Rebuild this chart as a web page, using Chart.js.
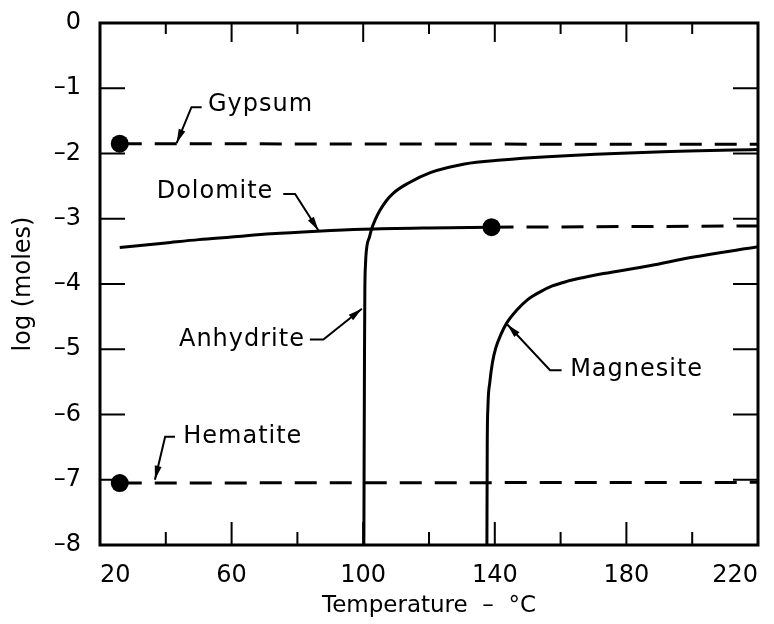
<!DOCTYPE html>
<html>
<head>
<meta charset="utf-8">
<script src="https://cdn.jsdelivr.net/npm/chart.js@4.4.1/dist/chart.umd.min.js"></script>
<style>
	body { margin: 0; background: #fff; }
	canvas { display: block; }
</style>
</head>
<body>
<canvas id="chart" width="774" height="624"></canvas>
<script>
// values (temperature in °C, log moles)
const gypsumT = [26, 220];
const gypsumV = [-1.85, -1.86];
const hematiteT = [26, 220];
const hematiteV = [-7.05, -7.04];
const dolomiteT = [26, 40, 50, 60, 72, 86, 100, 120, 139];
const dolomiteV = [-3.44, -3.37, -3.32, -3.28, -3.23, -3.19, -3.16, -3.14, -3.13];
const dolomiteDashT = [139, 220];
const dolomiteDashV = [-3.13, -3.11];
const anhydriteT = [100.2, 100.4, 100.5, 100.7, 101.1, 101.9, 102.6, 103.6, 105.1, 107.1, 109.1, 113.5, 120.6, 130.8, 142, 156, 187, 220];
const anhydriteV = [-8, -5, -4.1, -3.7, -3.43, -3.28, -3.15, -3.02, -2.87, -2.72, -2.61, -2.46, -2.29, -2.16, -2.10, -2.05, -1.98, -1.94];
const magnesiteT = [137.6, 137.7, 137.9, 138.5, 139.3, 140.3, 141.8, 143.6, 146.7, 150, 153.8, 157.5, 161.9, 167, 173, 187, 200, 220];
const magnesiteV = [-8, -6.5, -5.9, -5.5, -5.2, -4.98, -4.78, -4.6, -4.40, -4.24, -4.12, -4.03, -3.96, -3.9, -3.84, -3.72, -3.59, -3.43];
const markerT = [26, 139, 26];
const markerV = [-1.85, -3.13, -7.05];

const xTicksMin = 20, xTicksMax = 220, xStep = 40, xMinorStep = 20;
const yTicksMin = -8, yTicksMax = 0;

// labels with their leader arrows (data units)
const annotations = [
	{ text: 'Gypsum', at: [52.8, -1.26], align: 'left', leader: [[50.9, -1.29], [47.8, -1.29], [43.3, -1.84]] },
	{ text: 'Dolomite', at: [72.7, -2.59], align: 'right', leader: [[75.7, -2.62], [79.3, -2.62], [86.4, -3.18]] },
	{ text: 'Anhydrite', at: [82.3, -4.85], align: 'right', leader: [[83.8, -4.85], [87.9, -4.85], [99.6, -4.38]] },
	{ text: 'Hematite', at: [45.3, -6.34], align: 'left', leader: [[42.8, -6.34], [39.8, -6.34], [36.7, -7.0]] },
	{ text: 'Magnesite', at: [162.9, -5.32], align: 'left', leader: [[160.3, -5.32], [156.8, -5.32], [143.8, -4.62]] },
];

function pts(xs, ys) {
	return xs.map((x, i) => ({ x: x, y: ys[i] }));
}

function lineSet(xs, ys, dashed) {
	return {
		type: 'line',
		data: pts(xs, ys),
		borderColor: '#000',
		borderWidth: 3,
		borderDash: dashed ? [22, 13] : [],
		pointRadius: 0,
		fill: false,
		cubicInterpolationMode: 'monotone',
	};
}

const FONT = 'DejaVu Sans';

// frame with inward ticks
const framePlugin = {
	id: 'frame',
	afterDatasetsDraw(chart) {
		const ctx = chart.ctx;
		const a = chart.chartArea;
		const x = chart.scales.x, y = chart.scales.y;
		ctx.save();
		ctx.strokeStyle = '#000';
		ctx.lineWidth = 3;
		ctx.strokeRect(a.left, a.top, a.right - a.left, a.bottom - a.top);
		ctx.lineWidth = 2;
		ctx.beginPath();
		for (let v = yTicksMin + 1; v < yTicksMax; v++) {
			const py = y.getPixelForValue(v);
			ctx.moveTo(a.left, py); ctx.lineTo(a.left + 25, py);
			ctx.moveTo(a.right, py); ctx.lineTo(a.right - 25, py);
		}
		for (let v = xTicksMin + xMinorStep; v < xTicksMax; v += xMinorStep) {
			const px = x.getPixelForValue(v);
			const major = (v - xTicksMin) % xStep === 0;
			ctx.moveTo(px, a.bottom); ctx.lineTo(px, a.bottom - (major ? 23 : 13));
			ctx.moveTo(px, a.top); ctx.lineTo(px, a.top + (major ? 19 : 11));
		}
		ctx.stroke();
		ctx.restore();
	}
};

const labelPlugin = {
	id: 'labels',
	afterDraw(chart) {
		const ctx = chart.ctx;
		const x = chart.scales.x, y = chart.scales.y;
		ctx.save();
		ctx.fillStyle = '#000';
		ctx.strokeStyle = '#000';
		ctx.font = '24px "' + FONT + '"';
		ctx.letterSpacing = '1px';
		ctx.textBaseline = 'middle';
		annotations.forEach(an => {
			ctx.textAlign = an.align;
			ctx.fillText(an.text, x.getPixelForValue(an.at[0]), y.getPixelForValue(an.at[1]));
			const p = an.leader.map(q => [x.getPixelForValue(q[0]), y.getPixelForValue(q[1])]);
			ctx.lineWidth = 2;
			ctx.beginPath();
			ctx.moveTo(p[0][0], p[0][1]);
			for (let i = 1; i < p.length; i++) ctx.lineTo(p[i][0], p[i][1]);
			ctx.stroke();
			// arrow head at the tip
			const tip = p[p.length - 1], prev = p[p.length - 2];
			const ang = Math.atan2(tip[1] - prev[1], tip[0] - prev[0]);
			const len = 14, hw = 3.5;
			ctx.beginPath();
			ctx.moveTo(tip[0], tip[1]);
			ctx.lineTo(tip[0] - len * Math.cos(ang) + hw * Math.sin(ang), tip[1] - len * Math.sin(ang) - hw * Math.cos(ang));
			ctx.lineTo(tip[0] - len * Math.cos(ang) - hw * Math.sin(ang), tip[1] - len * Math.sin(ang) + hw * Math.cos(ang));
			ctx.closePath();
			ctx.fill();
		});
		ctx.restore();
	}
};

Chart.defaults.font.family = FONT;
Chart.defaults.color = '#000';

new Chart(document.getElementById('chart'), {
	type: 'scatter',
	data: {
		datasets: [
			lineSet(gypsumT, gypsumV, true),
			lineSet(hematiteT, hematiteV, true),
			lineSet(dolomiteT, dolomiteV, false),
			lineSet(dolomiteDashT, dolomiteDashV, true),
			lineSet(anhydriteT, anhydriteV, false),
			lineSet(magnesiteT, magnesiteV, false),
			{
				type: 'scatter',
				data: pts(markerT, markerV),
				pointRadius: 9,
				pointBackgroundColor: '#000',
				pointBorderWidth: 0,
			},
		]
	},
	options: {
		responsive: false,
		animation: false,
		devicePixelRatio: 1,
		layout: { padding: { top: 23, right: 16, bottom: 0, left: 0 } },
		plugins: {
			legend: { display: false },
			tooltip: { enabled: false },
		},
		scales: {
			x: {
				type: 'linear',
				min: xTicksMin,
				max: xTicksMax,
				grid: { display: false },
				border: { display: false },
				ticks: { stepSize: xStep, font: { size: 24 }, padding: 8, align: 'inner', maxRotation: 0 },
				title: { display: true, text: 'Temperature  –  °C', font: { size: 23 }, padding: { top: 0, bottom: 4 } },
				afterFit(scale) {
					scale.height = 79;
					scale.paddingLeft = 0;
					scale.paddingRight = 0;
				}
			},
			y: {
				min: yTicksMin,
				max: yTicksMax,
				grid: { display: false },
				border: { display: false },
				ticks: {
					stepSize: 1,
					font: { size: 24 },
					padding: 11,
					callback: v => v < 0 ? '–' + Math.abs(v) : String(v)
				},
				title: { display: true, text: 'log (moles)', font: { size: 24 }, padding: { top: 9, bottom: 0 } },
				afterFit(scale) {
					scale.width = 100;
					scale.paddingTop = 0;
					scale.paddingBottom = 0;
				}
			}
		}
	},
	plugins: [framePlugin, labelPlugin]
});
</script>
</body>
</html>
